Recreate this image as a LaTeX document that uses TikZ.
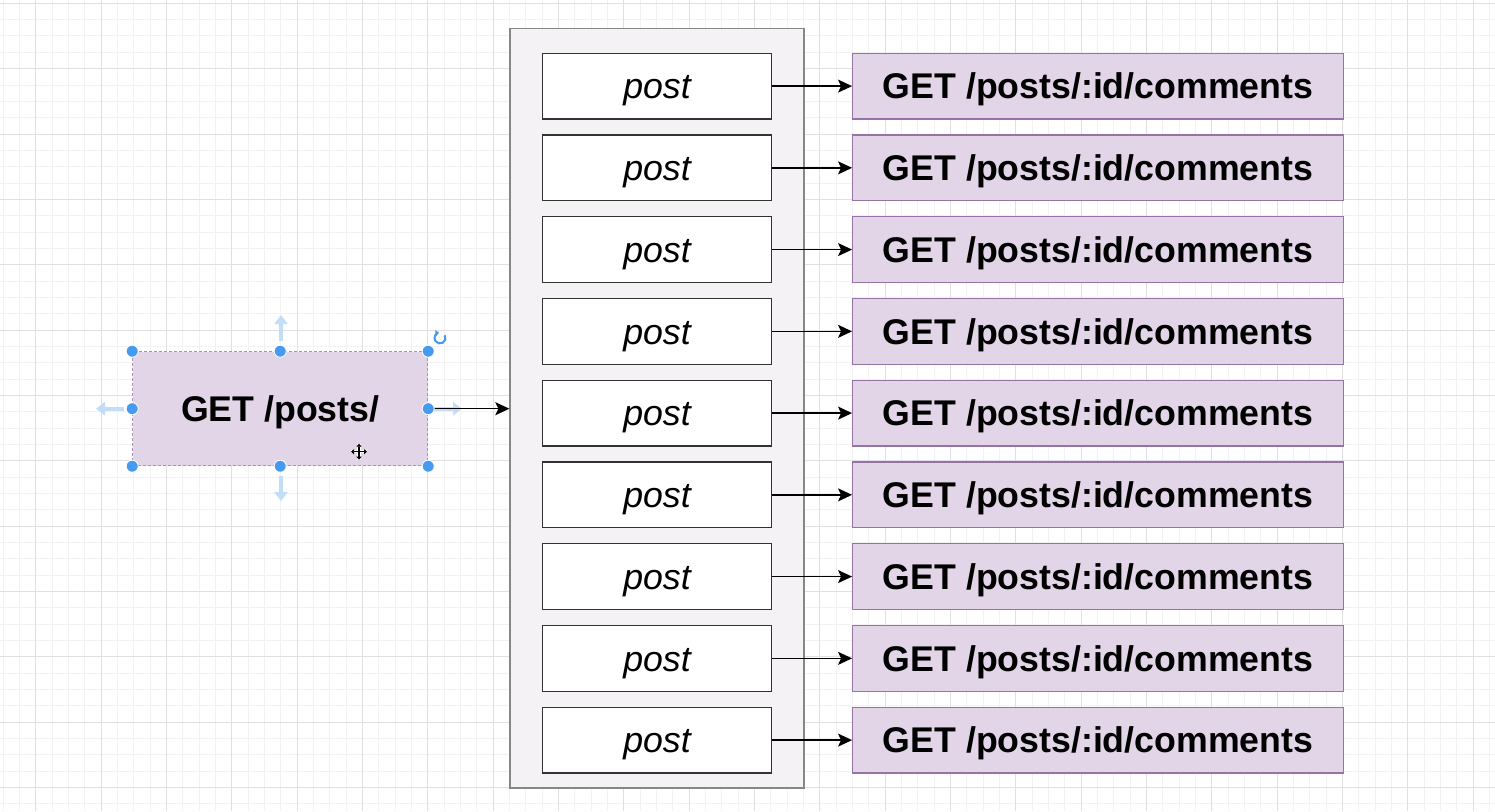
\documentclass[tikz,border=0pt]{standalone}
\usepackage{fontspec}
\setmainfont{Liberation Sans}
\usetikzlibrary{arrows.meta,positioning}

\definecolor{gridminor}{RGB}{243,241,243}
\definecolor{gridmajor}{RGB}{226,223,226}
\definecolor{reqfill}{RGB}{225,213,231}
\definecolor{reqline}{RGB}{150,115,166}
\definecolor{listfill}{RGB}{244,242,245}
\definecolor{listline}{RGB}{135,135,135}
\definecolor{handleblue}{RGB}{70,155,240}
\definecolor{hintblue}{RGB}{192,222,250}

\tikzset{
  request/.style={draw=reqline, fill=reqfill, line width=1.3pt, inner sep=0pt,
    minimum width=490.6pt, minimum height=65.7pt, text height=25.6pt, text depth=0pt,
    font=\fontsize{35.7pt}{40pt}\selectfont\bfseries},
  postbox/.style={draw=black!80, fill=white, line width=1.3pt, inner sep=0pt,
    minimum width=229.4pt, minimum height=65.6pt, text height=25.6pt, text depth=0pt,
    font=\fontsize{35.7pt}{40pt}\selectfont\itshape},
  link/.style={-{Stealth[length=14pt,width=13pt,inset=3pt]}, line width=1.4pt, black},
  handle/.style={fill=handleblue, draw=white, line width=0.8pt},
  hint/.style={hintblue, line width=4pt, -{Triangle[length=9pt,width=13pt]}}
}

\begin{document}
\begin{tikzpicture}[x=1pt, y=-1pt]
    \useasboundingbox (0,0) rectangle (1495,811);
    \fill[white] (0,0) rectangle (1495,811);
    % Background grid
    \begin{scope}
        \clip (0,0) rectangle (1495,811);
        \foreach \k in {0,...,91}
            \draw[gridminor, line width=1pt] (3.1+16.334*\k,0) -- ++(0,811);
        \foreach \k in {0,...,49}
            \draw[gridminor, line width=1pt] (0,3.3+16.34*\k) -- ++(1495,0);
        \foreach \k in {0,...,22}
            \draw[gridmajor, line width=1pt] (35.7+65.335*\k,0) -- ++(0,811);
        \foreach \k in {0,...,12}
            \draw[gridmajor, line width=1pt] (0,3.3+65.36*\k) -- ++(1495,0);
    \end{scope}
    % Container of posts
    \node[draw=listline, fill=listfill, line width=1.3pt, inner sep=0pt,
          minimum width=294pt, minimum height=759.7pt] (postlist) at (657,408.2) {};
    % Request for all posts
    \node[request, draw=reqline!80, dashed, dash pattern=on 3pt off 2pt, line width=1pt,
          minimum width=295pt, minimum height=114pt] (getposts) at (280.2,408.7) {GET /posts/};
    % One comments request per post
    \foreach \i in {1,...,9} {
        \node[postbox] (post\i) at (657,4.35+81.75*\i) {post};
        \node[request] (comments\i) at (1098,4.35+81.75*\i) {GET /posts/:id/comments};
        \draw[link] (post\i) -- (comments\i);
    }
    % Selection hints around the request
    \draw[hint] (281,341) -- (281,315);
    \draw[hint] (281,476) -- (281,501);
    \draw[hint] (124,408.7) -- (96,408.7);
    \draw[hint] (434,408.7) -- (462,408.7);
    \draw[link] (getposts.east) -- (getposts.east -| postlist.west);
    \foreach \a in {north west, north, north east, west, east, south west, south, south east}
        \fill[handle] (getposts.\a) circle (6pt);
    % Rotate handle
    \draw[handleblue, line width=2pt, -{Triangle[length=3.5pt,width=6pt]}]
        (440,338) ++(-30:5.5) arc[start angle=-30, end angle=260, radius=5.5];
    % Move cursor
    \draw[white, line width=3.5pt] (351,451.7) -- (367,451.7) (359,443.7) -- (359,459.7);
    \draw[black, line width=1.2pt, {Triangle[length=3pt,width=5pt]}-{Triangle[length=3pt,width=5pt]}]
        (351,451.7) -- (367,451.7);
    \draw[black, line width=1.2pt, {Triangle[length=3pt,width=5pt]}-{Triangle[length=3pt,width=5pt]}]
        (359,443.7) -- (359,459.7);
\end{tikzpicture}
\end{document}
